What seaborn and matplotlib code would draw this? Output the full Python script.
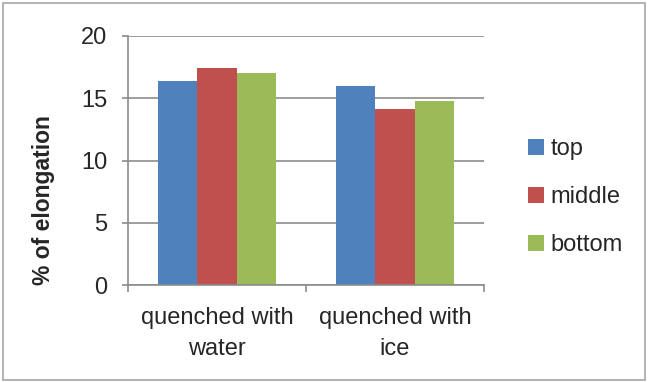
import pandas as pd
import matplotlib
matplotlib.use('Agg')
import matplotlib.pyplot as plt
import seaborn as sns
from matplotlib.patches import Rectangle

categories = ['quenched with\nwater', 'quenched with\nice']
positions = ['top', 'middle', 'bottom']
top_vals = [16.4, 16.0]
middle_vals = [17.4, 14.1]
bottom_vals = [17.05, 14.75]
colors = ['#4F81BD', '#C0504D', '#9BBB59']

df = pd.DataFrame({
    'category': categories * 3,
    'position': [p for p in positions for _ in categories],
    'value': top_vals + middle_vals + bottom_vals,
})

sns.set_style('white')
plt.rcParams['font.family'] = ['Liberation Sans', 'DejaVu Sans']

fig = plt.figure(figsize=(6.49, 3.82), dpi=100)
ax = fig.add_axes([128 / 649, 1 - 285 / 382, (484 - 128) / 649, (285 - 36) / 382])

sns.barplot(data=df, x='category', y='value', hue='position', palette=colors,
            width=0.66, gap=0, saturation=1, ax=ax, legend=True)
for p in ax.patches:
    p.set_edgecolor('none')

ax.set_xlim(-0.5, 1.5)
ax.set_ylim(0, 20)
ax.set_yticks([0, 5, 10, 15, 20])
ax.yaxis.grid(True, color='#8c8c8c', linewidth=1.2)
ax.set_axisbelow(True)
for s in ['top', 'right']:
    ax.spines[s].set_visible(False)
for s in ['left', 'bottom']:
    ax.spines[s].set_color('#8c8c8c')
    ax.spines[s].set_linewidth(1.2)

ax.set_xlabel('')
ax.set_ylabel('% of elongation', fontsize=16.5, fontweight='bold')
ax.yaxis.set_label_coords(-0.205, 0.34)
ax.tick_params(axis='y', which='major', length=4, color='#8c8c8c', width=1.2,
               direction='out', pad=11, labelsize=17, left=True)
ax.set_xticks([-0.5, 0.5, 1.5], minor=True)
ax.tick_params(axis='x', which='minor', length=5, color='#8c8c8c', width=1.2,
               direction='out', bottom=True)
ax.tick_params(axis='x', which='major', length=0, pad=16, labelsize=17)
for lbl in ax.get_xticklabels():
    lbl.set_linespacing(1.5)

handles, labels = ax.get_legend_handles_labels()
ax.legend_.remove()
fig.legend(handles, labels, loc='center left', bbox_to_anchor=(519 / 649, 1 - 197 / 382),
           frameon=False, fontsize=17, handlelength=0.65, handleheight=0.65,
           handletextpad=0.3, labelspacing=1.1, borderaxespad=0)

fig.patches.append(Rectangle((3 / 649, 2 / 382), 642 / 649, 377 / 382,
                             transform=fig.transFigure, fill=False,
                             edgecolor='#a6a6a6', linewidth=1.2))

fig.savefig('out.png', dpi=100)
